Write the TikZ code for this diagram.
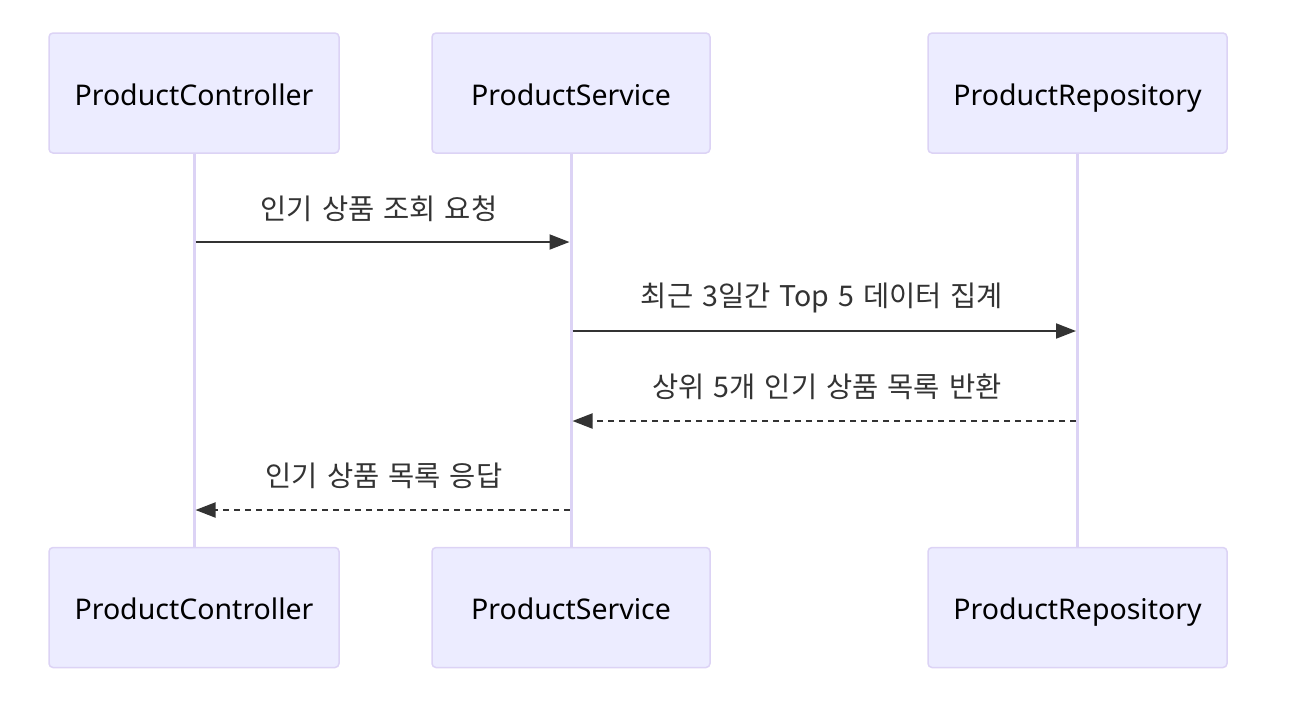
\documentclass[tikz,border=0pt]{standalone}
\usepackage{fontspec}
\setmainfont{Noto Sans CJK KR}[WordSpace={1.4}]
\newfontfamily\actorfont{Noto Sans}
\usetikzlibrary{arrows.meta}
\definecolor{actorfill}{HTML}{ECECFF}
\definecolor{actorline}{HTML}{DCD3F5}
\definecolor{msgcol}{HTML}{333333}
\tikzset{
  actor/.style={draw=actorline, line width=1.5pt, fill=actorfill, rounded corners=4pt,
    minimum height=120pt, inner sep=0pt, text height=30pt, text depth=6pt,
    font=\actorfont\fontsize{28.5}{32}\selectfont, text=black},
  lifeline/.style={draw=actorline, line width=3pt},
  msg/.style={draw=msgcol, line width=2pt, -{Triangle[length=20pt,width=15pt]}},
  reply/.style={msg, dash pattern=on 6pt off 5pt},
  mlabel/.style={font=\fontsize{28.5}{32}\selectfont, text=msgcol, inner sep=0pt}
}
\begin{document}
\begin{tikzpicture}[x=1pt,y=-1pt]
\useasboundingbox (0,0) rectangle (1296,713);
% top actors
\node[actor, minimum width=290pt] (pcT) at (194,93) {ProductController};
\node[actor, minimum width=278pt] (psT) at (571,93) {ProductService};
\node[actor, minimum width=299pt] (prT) at (1077.5,93) {ProductRepository};
% bottom actors
\node[actor, minimum width=290pt] (pcB) at (194,607.5) {ProductController};
\node[actor, minimum width=278pt] (psB) at (571,607.5) {ProductService};
\node[actor, minimum width=299pt] (prB) at (1077.5,607.5) {ProductRepository};
% lifelines
\draw[lifeline] (pcT.south) -- (pcB.north);
\draw[lifeline] (psT.south) -- (psB.north);
\draw[lifeline] (prT.south) -- (prB.north);
% message anchor points
\coordinate (m1s) at ([xshift=1.5pt]pcT.south |- 0,242);
\coordinate (m1e) at ([xshift=-1.5pt]psT.south |- 0,242);
\coordinate (m2s) at ([xshift=1.5pt]psT.south |- 0,331);
\coordinate (m2e) at ([xshift=-1.5pt]prT.south |- 0,331);
\coordinate (m3s) at ([xshift=-1.5pt]prT.south |- 0,421);
\coordinate (m3e) at ([xshift=1.5pt]psT.south |- 0,421);
\coordinate (m4s) at ([xshift=-1.5pt]psT.south |- 0,510);
\coordinate (m4e) at ([xshift=1.5pt]pcT.south |- 0,510);
\draw[msg] (m1s) -- (m1e);
\draw[msg] (m2s) -- (m2e);
\draw[reply] (m3s) -- (m3e);
\draw[reply] (m4s) -- (m4e);
% labels
\node[mlabel] (l1) at (379,209) {인기 상품 조회 요청};
\node[mlabel] (l2) at (822,298) {최근 3일간 Top 5 데이터 집계};
\node[mlabel] (l3) at (827,387) {상위 5개 인기 상품 목록 반환};
\node[mlabel] (l4) at (384,476) {인기 상품 목록 응답};
\end{tikzpicture}
\end{document}
